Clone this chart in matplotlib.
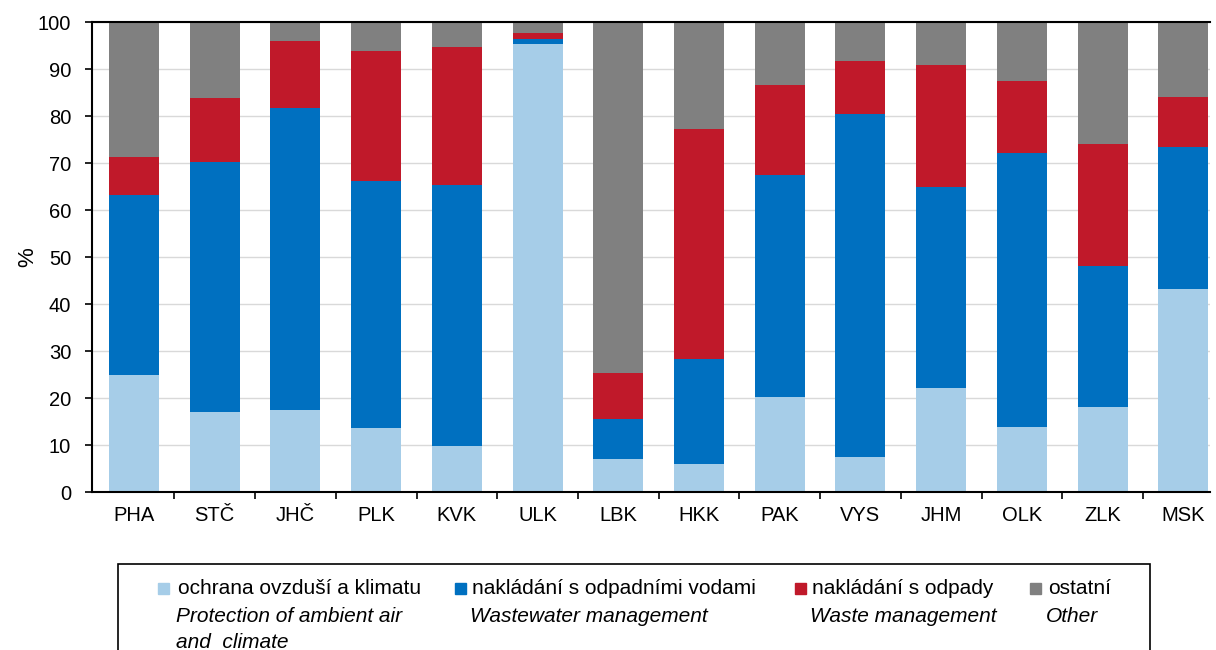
import matplotlib.pyplot as plt
import numpy as np
from matplotlib.patches import Rectangle

plt.rcParams['font.family'] = ['Liberation Sans', 'DejaVu Sans']

regions = ['PHA', 'STČ', 'JHČ', 'PLK', 'KVK', 'ULK', 'LBK', 'HKK', 'PAK',
           'VYS', 'JHM', 'OLK', 'ZLK', 'MSK']

# cumulative tops
top_air = [25.0, 17.0, 17.5, 13.6, 9.7, 95.4, 7.0, 6.0, 20.2, 7.4, 22.1, 13.8, 18.1, 43.3]
top_water = [63.3, 70.3, 81.8, 66.1, 65.3, 96.5, 15.6, 28.3, 67.5, 80.4, 65.0, 72.1, 48.2, 73.5]
top_waste = [71.2, 83.9, 95.9, 93.9, 94.6, 97.7, 25.4, 77.2, 86.6, 91.8, 90.8, 87.5, 74.1, 84.0]

air = np.array(top_air)
water = np.array(top_water) - air
waste = np.array(top_waste) - np.array(top_water)
other = 100 - np.array(top_waste)

series = [air, water, waste, other]
colors = ['#A6CDE8', '#0070C0', '#C0192A', '#808080']
labels_cz = ['ochrana ovzduší a klimatu', 'nakládání s odpadními vodami',
             'nakládání s odpady', 'ostatní']
labels_en = ['Protection of ambient air\nand  climate', 'Wastewater management',
             'Waste management', 'Other']

fig = plt.figure(figsize=(12.16, 6.5), dpi=100)
ax = fig.add_axes([0.0757, 0.243, 0.9193, 0.723])

x = np.arange(len(regions))
bottom = np.zeros(len(regions))
for vals, col in zip(series, colors):
    ax.bar(x, vals, 0.62, bottom=bottom, color=col, zorder=2)
    bottom += vals

ax.set_xlim(-0.52, 13.33)
ax.set_ylim(0, 100)
ax.set_yticks(range(0, 101, 10))
ax.yaxis.grid(True, color='#D9D9D9', linewidth=1, zorder=0)
ax.set_xticks(x)
ax.set_xticklabels(regions, fontsize=14.5)
ax.set_xticks(np.arange(0.5, 13, 1), minor=True)
ax.tick_params(axis='x', which='major', length=0, pad=10)
ax.tick_params(axis='x', which='minor', length=5, width=1.2, direction='out')
ax.tick_params(axis='y', labelsize=14.5, length=5, width=1.2, direction='out', pad=10)
ax.set_ylabel('%', fontsize=16, labelpad=0)
ax.spines['right'].set_visible(False)
for s in ['left', 'bottom', 'top']:
    ax.spines[s].set_linewidth(1.5)

# legend box drawn by hand (bilingual labels)
W, H = 1216, 650
fig.patches.append(Rectangle((118 / W, -0.05), (1150 - 118) / W, 1 - 564 / H + 0.05,
                             transform=fig.transFigure, fill=False, edgecolor='black',
                             linewidth=1.2))
xs_sq = [158, 455, 795, 1030]
xs_txt = [178, 472, 812, 1048]
for xs, xt, col, lc, le in zip(xs_sq, xs_txt, colors, labels_cz, labels_en):
    fig.patches.append(Rectangle((xs / W, 1 - 594 / H), 11 / W, 11 / H,
                                 transform=fig.transFigure, color=col))
    fig.text(xt / W, 1 - 588 / H, lc, fontsize=15, va='center', ha='left')
    fig.text((xt - 2) / W, 1 - 607 / H, le, fontsize=15, style='italic',
             va='top', ha='left', linespacing=1.45)

fig.savefig('out.png', dpi=100)
